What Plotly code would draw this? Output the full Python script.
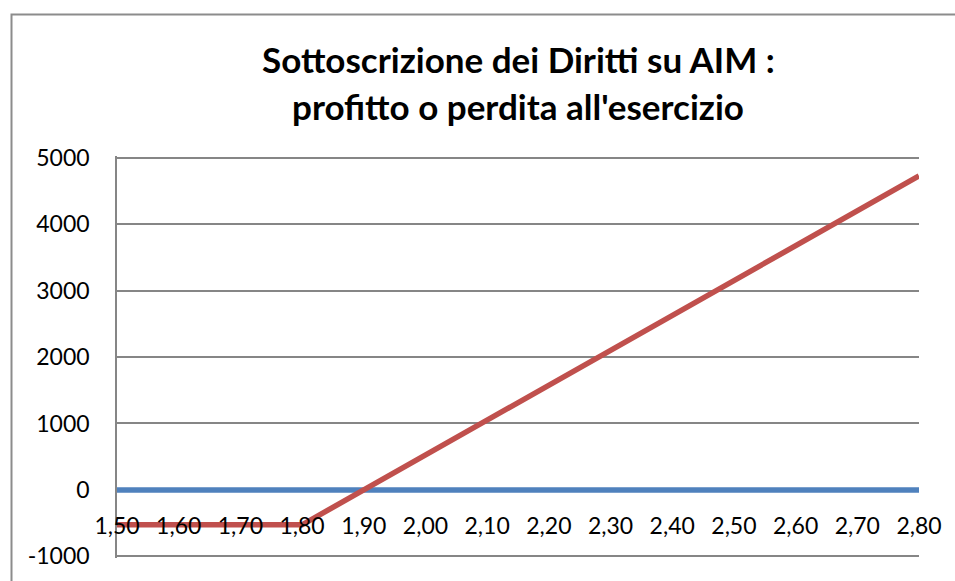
import plotly.graph_objects as go

categories = ["1,50", "1,60", "1,70", "1,80", "1,90", "2,00", "2,10",
              "2,20", "2,30", "2,40", "2,50", "2,60", "2,70", "2,80"]
baseline_values = [0, 0, 0, 0, 0, 0, 0, 0, 0, 0, 0, 0, 0, 0]
profit_values = [-525, -525, -525, -525, 0, 525, 1050, 1575, 2100,
                 2625, 3150, 3675, 4200, 4725]
y_ticks = [-1000, 0, 1000, 2000, 3000, 4000, 5000]
y_tick_labels = ["-1000", "0", "1000", "2000", "3000", "4000", "5000"]
title_line1 = "Sottoscrizione dei Diritti su AIM :"
title_line2 = "profitto o perdita all'esercizio"

FONT = "Lato"
W, H = 955, 581
L, R, T, B = 117, 36, 156, 20
PH = H - T - B
PW = W - L - R
Y_LO, Y_HI = -1025, 5025

def py(Y):
    return (H - B - Y) / PH

def px(X):
    return (X - L) / PW

fig = go.Figure()
fig.add_trace(go.Scatter(x=categories, y=baseline_values, mode="lines",
                         line=dict(color="#4F81BD", width=5.5), showlegend=False,
                         hoverinfo="skip"))
fig.add_trace(go.Scatter(x=categories, y=profit_values, mode="lines",
                         line=dict(color="#C0504D", width=5.5), showlegend=False,
                         hoverinfo="skip"))

fig.update_layout(
    width=W, height=H,
    margin=dict(l=L, r=R, t=T, b=B, pad=0),
    paper_bgcolor="white", plot_bgcolor="white",
    font=dict(family=FONT, color="black", size=23),
    showlegend=False,
    xaxis=dict(type="category", range=[0, len(categories) - 1],
               anchor="y", side="bottom",
               showline=False, showgrid=False,
               zeroline=False, ticks="", ticklabelstandoff=-48,
               tickfont=dict(family=FONT, size=23, color="black")),
    yaxis=dict(range=[Y_LO, Y_HI], tickvals=y_ticks,
               ticktext=y_tick_labels,
               showline=True, linecolor="#868686", linewidth=1.5,
               showgrid=True, gridcolor="#868686", gridwidth=1.5,
               zeroline=False, ticks="", ticklabelstandoff=21,
               tickfont=dict(family=FONT, size=23, color="black")),
    annotations=[
        dict(text="<b>" + title_line1 + "</b>", xref="paper", yref="paper",
             x=0.5, y=py(58), xanchor="center", yanchor="middle",
             showarrow=False, font=dict(family=FONT, size=35, color="black")),
        dict(text="<b>" + title_line2 + "</b>", xref="paper", yref="paper",
             x=0.5, y=py(106), xanchor="center", yanchor="middle",
             showarrow=False, font=dict(family=FONT, size=35, color="black")),
    ],
    shapes=[
        dict(type="rect", xref="paper", yref="paper",
             x0=px(11.5), y0=py(620), x1=px(1000), y1=py(13.5),
             line=dict(color="#8C8C8C", width=2), fillcolor="rgba(0,0,0,0)",
             layer="below"),
    ],
)

fig.write_html("out.html", config={"displayModeBar": False},
               post_script="document.body.style.margin='0';")
